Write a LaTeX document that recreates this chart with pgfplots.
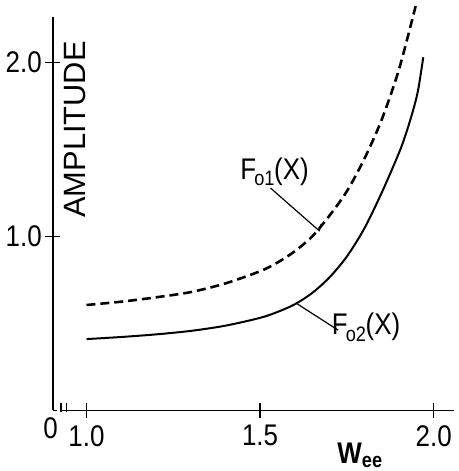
\documentclass[border=0pt]{standalone}
\usepackage{pgfplots}
\pgfplotsset{compat=1.18}
\usepackage{fontspec}
\setmainfont{Liberation Sans}[FakeStretch=0.87]
\newfontfamily\widefont{Liberation Sans}

\begin{document}
\begin{tikzpicture}[font=\fontsize{30bp}{36bp}\selectfont]
\begin{axis}[
    scale only axis,
    width=403.7bp, height=395.4bp,
    xmin=0.9026, xmax=2.059,
    ymin=0, ymax=2.26,
    axis lines=left,
    axis line style={-, line width=1.6bp},
    xtick={1,1.5,2}, xticklabels={1.0,1.5,2.0},
    ytick={1,2}, yticklabels={1.0,2.0},
    extra x ticks={0.905}, extra x tick labels={0},
    extra x tick style={major tick length=0pt, tick label style={xshift=-3bp}},
    tick align=center, major tick length=15bp,
    tick style={line width=1.6bp, black},
    tick label style={font=\fontsize{30bp}{36bp}\selectfont},
    xticklabel style={yshift=-4bp},
    clip=false,
]
% F01(X), dashed
\addplot[black, line width=2.6bp, dash pattern=on 9bp off 5bp, smooth] coordinates {
    (1.0,0.606) (1.1,0.625) (1.2,0.650) (1.3,0.680) (1.4,0.730) (1.5,0.800)
    (1.55,0.850) (1.6,0.915) (1.65,1.000) (1.7,1.120) (1.75,1.260)
    (1.8,1.445) (1.85,1.670) (1.9,1.960) (1.948,2.324)
};
% F02(X), solid
\addplot[black, line width=2bp, smooth] coordinates {
    (1.0,0.410) (1.1,0.422) (1.2,0.437) (1.3,0.457) (1.4,0.487) (1.5,0.532)
    (1.55,0.566) (1.6,0.610) (1.65,0.675) (1.7,0.765) (1.75,0.885)
    (1.8,1.045) (1.85,1.250) (1.9,1.480) (1.92,1.590) (1.94,1.720)
    (1.955,1.840) (1.970,2.030)
};

% axis break
\fill[white] (axis cs:0.914,-0.03) rectangle (axis cs:0.925,0.03);
\draw[line width=1.4bp] (axis cs:0.926,-0.01) -- (axis cs:0.926,0.045);
\draw[line width=1.4bp] (axis cs:0.943,-0.01) -- (axis cs:0.943,0.045);

\node[rotate=90, font=\widefont\fontsize{31bp}{36bp}\selectfont] at (axis cs:0.9656,1.615) {AMPLITUDE};
\node at (axis cs:1.5415,1.37) {F\kern-0.06em\textsubscript{o1}\kern-0.03em(X)};
\draw[line width=1.2bp] (axis cs:1.530,1.278) -- (axis cs:1.670,1.033) -- (axis cs:1.676,1.072);
\node at (axis cs:1.805,0.478) {F\kern-0.06em\textsubscript{o2}\kern-0.03em(X)};
\draw[line width=1.2bp] (axis cs:1.605,0.615) -- (axis cs:1.725,0.461);
\node at (axis cs:1.788,-0.259) {\textbf{W}\textsubscript{\textbf{ee}}};

\coordinate (sw) at (rel axis cs:0,0);
\coordinate (ne) at (rel axis cs:1,1);
\end{axis}
\path ([shift={(-53bp,-58.3bp)}]sw) rectangle ([shift={(4.3bp,17.3bp)}]ne);
\end{tikzpicture}
\end{document}
